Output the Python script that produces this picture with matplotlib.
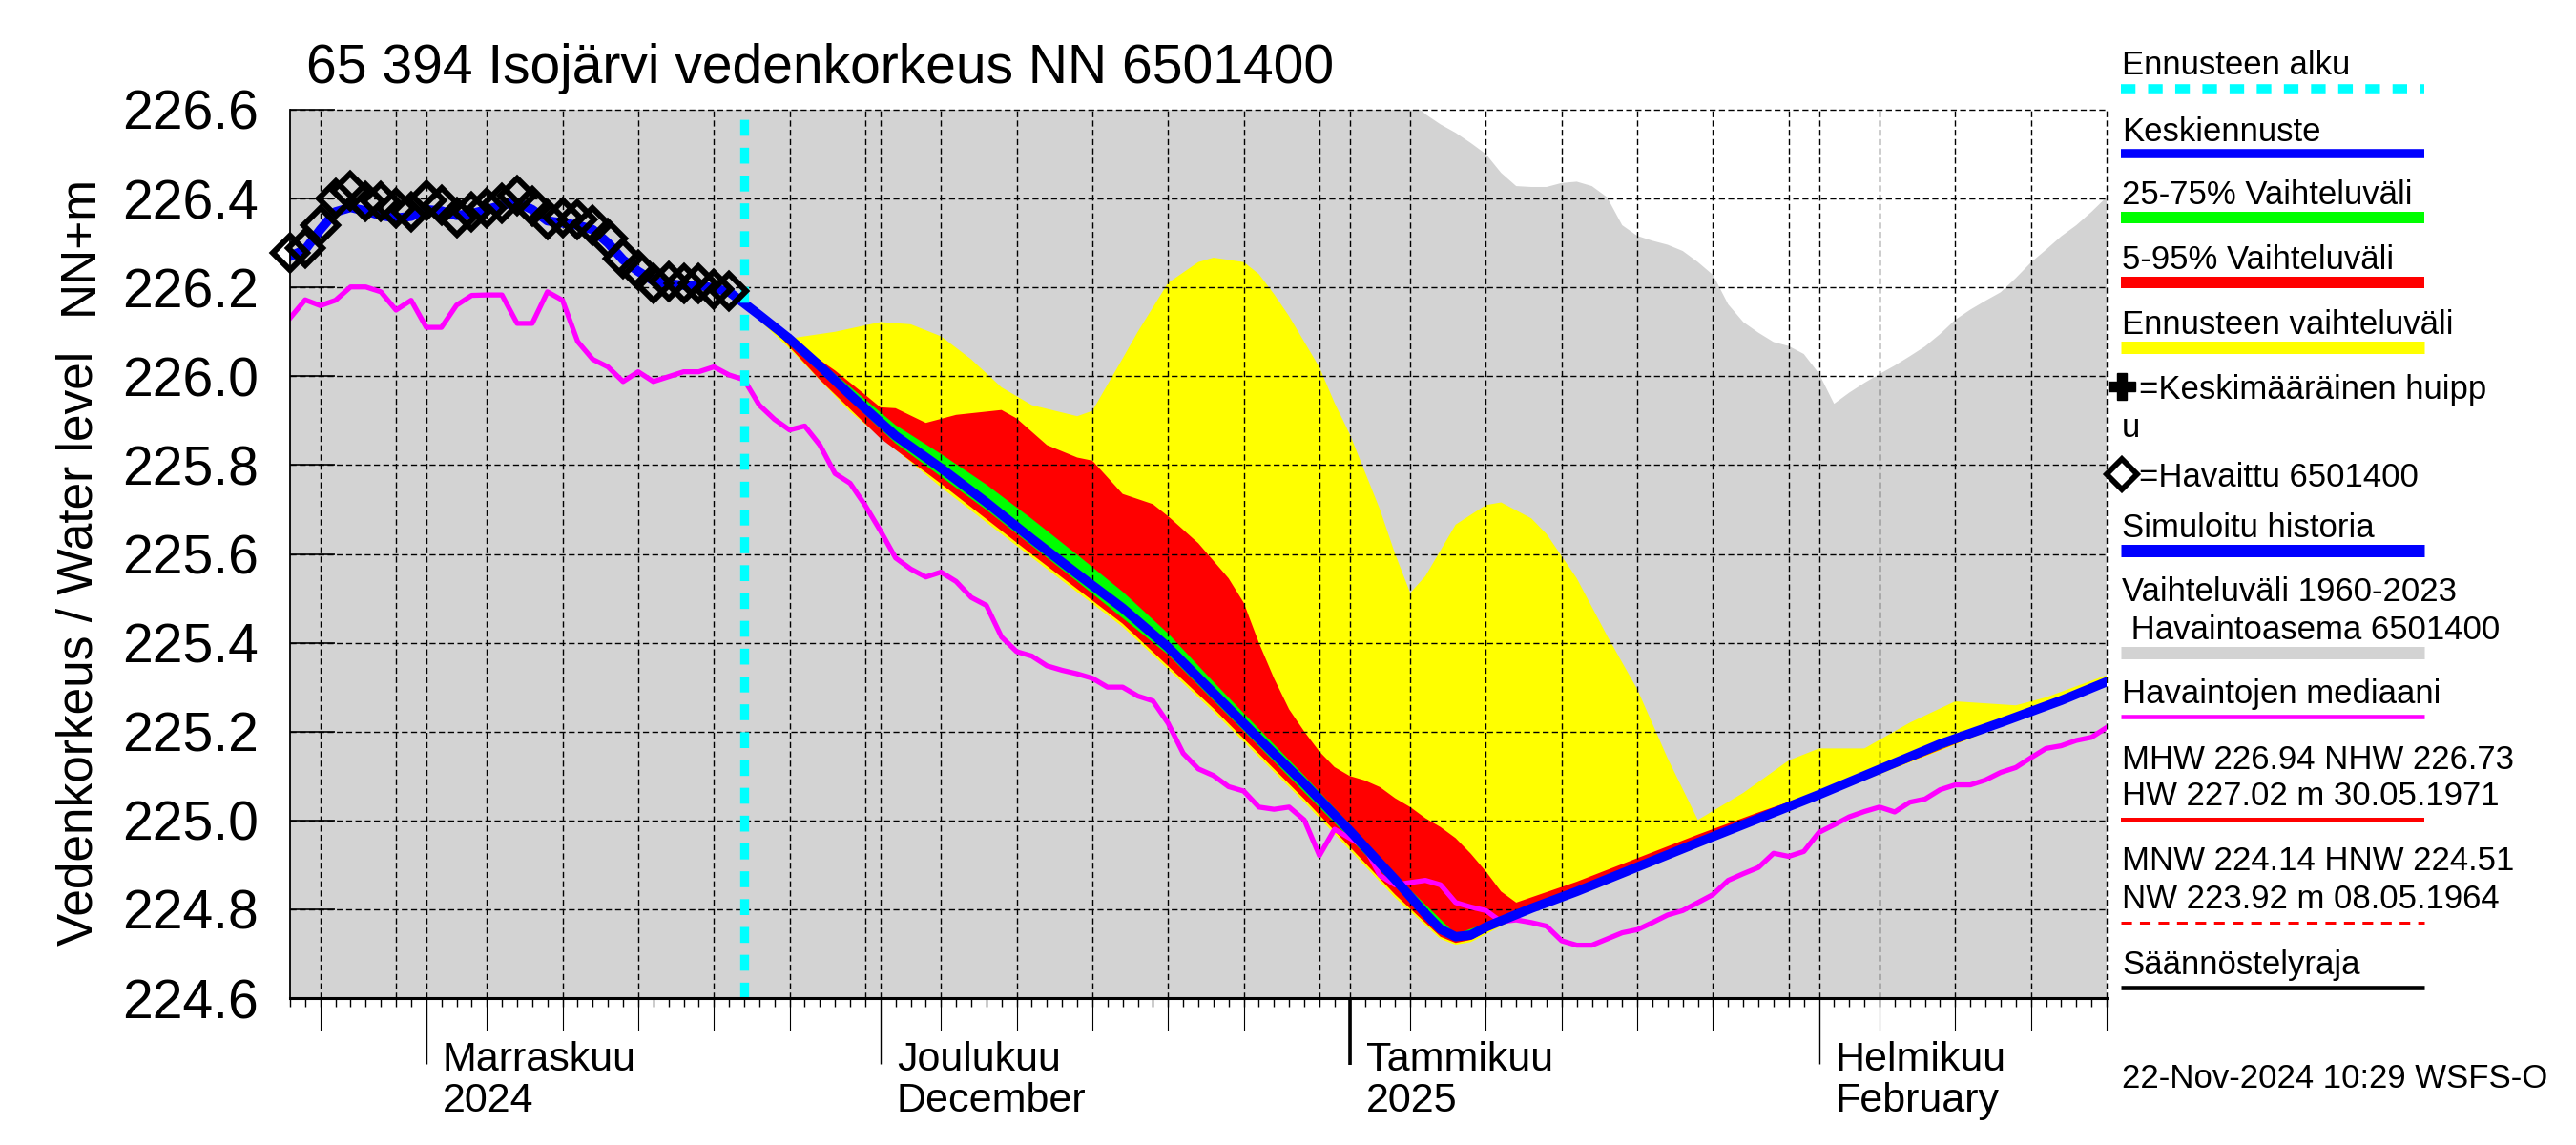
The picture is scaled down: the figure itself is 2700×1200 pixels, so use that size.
import matplotlib
matplotlib.use("Agg")
import matplotlib.pyplot as plt
import matplotlib.dates as mdates
import matplotlib.transforms as mtransforms
from matplotlib.lines import Line2D
import numpy as np
import pandas as pd

plt.rcParams['font.family'] = ['Liberation Sans', 'DejaVu Sans']
plt.rcParams['lines.scale_dashes'] = False

# ---------------- data ----------------
TITLE = "65 394 Isojärvi vedenkorkeus NN 6501400"
X_START, X_END = "2024-10-23", "2025-02-20"
FORECAST_START = "2024-11-22"

obs_start = "2024-10-23"
obs_values = [226.278, 226.289, 226.339, 226.400, 226.418, 226.393, 226.393, 226.378,
              226.371, 226.396, 226.385, 226.357, 226.371, 226.378, 226.389, 226.407,
              226.382, 226.353, 226.357, 226.353, 226.339, 226.310, 226.264, 226.239,
              226.210, 226.214, 226.210, 226.210, 226.196, 226.192]

sim_values = [226.270, 226.285, 226.330, 226.370, 226.380, 226.372, 226.362, 226.356,
              226.360, 226.375, 226.372, 226.362, 226.366, 226.375, 226.385, 226.392,
              226.375, 226.350, 226.345, 226.340, 226.330, 226.300, 226.262, 226.236,
              226.215, 226.208, 226.205, 226.205, 226.198, 226.190]

median_start = "2024-10-23"
median_values = [
    226.131, 226.172, 226.159, 226.171, 226.201, 226.201, 226.190, 226.149, 226.171,  # Oct 23-31
    226.110, 226.110, 226.160, 226.182, 226.183, 226.183, 226.119, 226.119, 226.190, 226.171,  # Nov 1-10
    226.078, 226.038, 226.021, 225.988, 226.010, 225.988, 225.999, 226.010, 226.010, 226.021,  # Nov 11-20
    226.003, 225.992, 225.935, 225.903, 225.879, 225.888, 225.845, 225.781, 225.759, 225.709,  # Nov 21-30
    225.652, 225.591, 225.566, 225.548, 225.559, 225.538, 225.502, 225.484, 225.413, 225.380,  # Dec 1-10
    225.370, 225.348, 225.338, 225.330, 225.320, 225.300, 225.300, 225.280, 225.269, 225.219,  # Dec 11-20
    225.151, 225.116, 225.101, 225.076, 225.066, 225.030, 225.025, 225.030, 225.001, 224.921,  # Dec 21-30
    224.980,                                                                                   # Dec 31
    224.960, 224.940, 224.876, 224.855, 224.860, 224.865, 224.855, 224.815, 224.805, 224.797,  # Jan 1-10
    224.772, 224.776, 224.770, 224.762, 224.729, 224.719, 224.719, 224.733, 224.747, 224.754,  # Jan 11-20
    224.770, 224.787, 224.797, 224.815, 224.833, 224.865, 224.880, 224.894, 224.926, 224.919,  # Jan 21-30
    224.930,                                                                                   # Jan 31
    224.973, 224.990, 225.008, 225.020, 225.030, 225.019, 225.041, 225.048, 225.069, 225.080,  # Feb 1-10
    225.080, 225.091, 225.108, 225.119, 225.141, 225.162, 225.168, 225.180, 225.187, 225.209,  # Feb 11-20
]

mean_dates = ["2024-11-21", "2024-11-23", "2024-11-25", "2024-11-27", "2024-11-29", "2024-12-02",
              "2024-12-05", "2024-12-08", "2024-12-11", "2024-12-14", "2024-12-17", "2024-12-20",
              "2024-12-23", "2024-12-26", "2024-12-29", "2025-01-01", "2025-01-04", "2025-01-06",
              "2025-01-07", "2025-01-08", "2025-01-09", "2025-01-10", "2025-01-13", "2025-01-16",
              "2025-01-20", "2025-01-24", "2025-01-28", "2025-02-01", "2025-02-05", "2025-02-09",
              "2025-02-13", "2025-02-17", "2025-02-20"]
mean_values = [226.190, 226.138, 226.084, 226.023, 225.958, 225.866,
               225.793, 225.716, 225.634, 225.555, 225.478, 225.390,
               225.287, 225.184, 225.083, 224.977, 224.867, 224.790,
               224.755, 224.738, 224.742, 224.760, 224.802, 224.840,
               224.895, 224.950, 225.004, 225.058, 225.115, 225.172,
               225.220, 225.270, 225.312]

yellow_up_dates = ["2024-11-21", "2024-11-25", "2024-11-28", "2024-12-01", "2024-12-03", "2024-12-05",
                   "2024-12-07", "2024-12-09", "2024-12-11", "2024-12-14", "2024-12-15", "2024-12-17",
                   "2024-12-18", "2024-12-20", "2024-12-22", "2024-12-23", "2024-12-25", "2024-12-26",
                   "2024-12-27", "2024-12-28", "2024-12-30", "2024-12-31", "2025-01-01", "2025-01-03",
                   "2025-01-04", "2025-01-05", "2025-01-06", "2025-01-08", "2025-01-10", "2025-01-11",
                   "2025-01-13", "2025-01-14", "2025-01-16", "2025-01-18", "2025-01-20", "2025-01-22",
                   "2025-01-24", "2025-01-27", "2025-01-30", "2025-02-01", "2025-02-04", "2025-02-07",
                   "2025-02-10", "2025-02-14", "2025-02-16", "2025-02-20"]
yellow_up_values = [226.190, 226.085, 226.100, 226.122, 226.117, 226.090,
                    226.038, 225.975, 225.935, 225.910, 225.922, 226.040,
                    226.100, 226.210, 226.257, 226.267, 226.257, 226.230,
                    226.185, 226.135, 226.020, 225.940, 225.870, 225.700,
                    225.600, 225.512, 225.550, 225.666, 225.710, 225.716,
                    225.680, 225.645, 225.545, 225.416, 225.295, 225.140,
                    225.001, 225.062, 225.135, 225.162, 225.162, 225.220,
                    225.268, 225.259, 225.277, 225.327]

yellow_lo_dates = ["2024-11-21", "2024-11-25", "2024-11-29", "2024-12-05", "2024-12-11", "2024-12-17",
                   "2024-12-23", "2024-12-29", "2025-01-04", "2025-01-07", "2025-01-08", "2025-01-09",
                   "2025-01-12", "2025-01-20", "2025-02-01", "2025-02-20"]
yellow_lo_values = [226.190, 226.062, 225.920, 225.750, 225.592, 225.436,
                    225.245, 225.041, 224.826, 224.733, 224.720, 224.726,
                    224.780, 224.885, 225.050, 225.305]

red_up_dates = ["2024-11-21", "2024-11-24", "2024-11-26", "2024-11-28", "2024-11-30", "2024-12-01",
                "2024-12-02", "2024-12-04", "2024-12-06", "2024-12-09", "2024-12-10", "2024-12-12",
                "2024-12-14", "2024-12-15", "2024-12-17", "2024-12-19", "2024-12-20", "2024-12-22",
                "2024-12-24", "2024-12-25", "2024-12-26", "2024-12-27", "2024-12-28", "2024-12-29",
                "2024-12-30", "2024-12-31", "2025-01-01", "2025-01-02", "2025-01-03", "2025-01-04",
                "2025-01-05", "2025-01-06", "2025-01-07", "2025-01-08", "2025-01-09", "2025-01-10",
                "2025-01-11", "2025-01-12", "2025-01-16", "2025-01-20", "2025-01-24", "2025-01-28",
                "2025-02-01", "2025-02-05", "2025-02-20"]
red_up_values = [226.190, 226.112, 226.060, 226.013, 225.958, 225.930,
                 225.928, 225.895, 225.913, 225.924, 225.905, 225.845,
                 225.817, 225.810, 225.735, 225.712, 225.685, 225.624,
                 225.545, 225.490, 225.400, 225.320, 225.250, 225.200,
                 225.155, 225.120, 225.100, 225.090, 225.075, 225.050,
                 225.030, 225.005, 224.985, 224.960, 224.925, 224.885,
                 224.840, 224.815, 224.862, 224.915, 224.968, 225.018,
                 225.065, 225.118, 225.312]

red_lo_dates = ["2024-11-21", "2024-11-24", "2024-11-27", "2024-12-01", "2024-12-05", "2024-12-11",
                "2024-12-17", "2024-12-23", "2024-12-29", "2025-01-04", "2025-01-07", "2025-01-08",
                "2025-01-09", "2025-01-12", "2025-01-20", "2025-02-01", "2025-02-20"]
red_lo_values = [226.190, 226.103, 225.992, 225.860, 225.758, 225.599,
                 225.443, 225.252, 225.048, 224.833, 224.738, 224.724,
                 224.731, 224.785, 224.888, 225.052, 225.306]

green_up_dates = ["2024-11-21", "2024-11-27", "2024-12-02", "2024-12-05", "2024-12-08", "2024-12-11",
                  "2024-12-14", "2024-12-17", "2024-12-20", "2024-12-23", "2024-12-26", "2024-12-29",
                  "2025-01-01", "2025-01-04", "2025-01-08", "2025-01-12", "2025-02-20"]
green_up_values = [226.190, 226.034, 225.890, 225.825, 225.756, 225.679,
                   225.598, 225.515, 225.421, 225.312, 225.206, 225.101,
                   224.991, 224.877, 224.744, 224.792, 225.315]

green_lo_dates = ["2024-11-21", "2024-11-27", "2024-12-02", "2024-12-08", "2024-12-14", "2024-12-20",
                  "2024-12-26", "2025-01-01", "2025-01-04", "2025-01-08", "2025-01-12", "2025-02-20"]
green_lo_values = [226.190, 226.010, 225.849, 225.699, 225.538, 225.373,
                   225.167, 224.960, 224.852, 224.728, 224.785, 225.308]

grey_dates = ["2024-10-23", "2024-12-31", "2025-01-04", "2025-01-05", "2025-01-06", "2025-01-07",
              "2025-01-08", "2025-01-09", "2025-01-10", "2025-01-11", "2025-01-12", "2025-01-13",
              "2025-01-14", "2025-01-15", "2025-01-16", "2025-01-17", "2025-01-18", "2025-01-19",
              "2025-01-20", "2025-01-21", "2025-01-22", "2025-01-23", "2025-01-24", "2025-01-25",
              "2025-01-26", "2025-01-27", "2025-01-28", "2025-01-29", "2025-01-30", "2025-01-31",
              "2025-02-01", "2025-02-02", "2025-02-03", "2025-02-04", "2025-02-05", "2025-02-06",
              "2025-02-07", "2025-02-08", "2025-02-09", "2025-02-10", "2025-02-11", "2025-02-12",
              "2025-02-13", "2025-02-14", "2025-02-15", "2025-02-16", "2025-02-17", "2025-02-18",
              "2025-02-19", "2025-02-20"]
grey_upper = [226.950, 226.800, 226.660, 226.620, 226.590, 226.567,
              226.548, 226.525, 226.500, 226.458, 226.428, 226.426,
              226.426, 226.435, 226.438, 226.428, 226.403, 226.340,
              226.316, 226.305, 226.296, 226.282, 226.257, 226.228,
              226.162, 226.122, 226.098, 226.077, 226.068, 226.050,
              226.006, 225.938, 225.963, 225.985, 226.005, 226.024,
              226.045, 226.067, 226.095, 226.127, 226.150, 226.170,
              226.189, 226.221, 226.256, 226.285, 226.315, 226.340,
              226.370, 226.403]
GREY_LOWER = 224.30

month_labels = [("2024-11-01", "Marraskuu", "2024"),
                ("2024-12-01", "Joulukuu", "December"),
                ("2025-01-01", "Tammikuu", "2025"),
                ("2025-02-01", "Helmikuu", "February")]

y_ticks = [224.6, 224.8, 225.0, 225.2, 225.4, 225.6, 225.8, 226.0, 226.2, 226.4, 226.6]

legend_items = [
    ("Ennusteen alku", "#00ffff", 9.6, "dash"),
    ("Keskiennuste", "#0000ff", 9.6, "solid"),
    ("25-75% Vaihteluväli", "#00ff00", 12, "solid"),
    ("5-95% Vaihteluväli", "#ff0000", 12, "solid"),
    ("Ennusteen vaihteluväli", "#ffff00", 13, "solid"),
]
STAMP = "22-Nov-2024 10:29 WSFS-O"

# ---------------- figure ----------------
W, H = 2700, 1200
fig = plt.figure(figsize=(W / 100, H / 100), dpi=100)
L, R, T, B = 304, 2208, 115, 1046
ax = fig.add_axes([L / W, 1 - B / H, (R - L) / W, (B - T) / H])

def D(lst):
    return mdates.date2num(pd.to_datetime(lst))

x0, x1 = pd.Timestamp(X_START), pd.Timestamp(X_END)
ax.set_xlim(x0, x1)
ax.set_ylim(224.6, 226.6)

# grey historical range
ax.fill_between(D(grey_dates), GREY_LOWER, grey_upper, color="#d3d3d3", lw=0, zorder=1)

def band(up_d, up_v, lo_d, lo_v, color, z):
    xs = np.concatenate([D(up_d), D(lo_d)[::-1]])
    ys = np.concatenate([np.array(up_v), np.array(lo_v)[::-1]])
    ax.fill(xs, ys, color=color, lw=0, zorder=z)

band(yellow_up_dates, yellow_up_values, yellow_lo_dates, yellow_lo_values, "#ffff00", 2)
band(red_up_dates, red_up_values, red_lo_dates, red_lo_values, "#ff0000", 3)
band(green_up_dates, green_up_values, green_lo_dates, green_lo_values, "#00ff00", 4)

# grid
grid_kw = dict(color="black", lw=1.0, linestyle=(0, (4.5, 2.5)), zorder=5)
for v in y_ticks:
    ax.axhline(v, clip_on=False, **grid_kw)
gdays = []
d = x0
while d <= x1:
    if d.day in (1, 5, 10, 15, 20, 25, 30):
        gdays.append(d)
    d += pd.Timedelta(days=1)
for g in gdays:
    ax.axvline(g, clip_on=False, **grid_kw)

# lines
med_dates = pd.date_range(median_start, periods=len(median_values), freq="D")
ax.plot(med_dates, median_values, color="#ff00ff", lw=3.8, zorder=6)
obs_dates = pd.date_range(obs_start, periods=len(obs_values), freq="D")
ax.plot(obs_dates, sim_values, color="#0000ff", lw=7.0, zorder=7)
ax.plot(pd.to_datetime(mean_dates), mean_values, color="#0000ff", lw=7.0, zorder=7)
ax.axvline(pd.Timestamp(FORECAST_START), color="#00ffff", lw=6.7,
           linestyle=(0, (12, 9)), zorder=8)
ax.plot(obs_dates, obs_values, linestyle="none", marker="D", ms=18, mfc="none",
        mec="black", mew=4.4, zorder=9, clip_on=False)

# spines / ticks
for s in ("top", "right"):
    ax.spines[s].set_visible(False)
ax.spines["left"].set_linewidth(1.3)
ax.spines["bottom"].set_linewidth(2.2)
ax.spines["left"].set_zorder(10)
ax.spines["bottom"].set_zorder(10)

ax.set_yticks(y_ticks)
ax.set_yticklabels([f"{v:.1f}" for v in y_ticks])
ax.tick_params(axis="y", direction="in", length=34, width=1.2, labelsize=41, pad=24)

ax.xaxis.set_major_locator(mdates.MonthLocator())
ax.xaxis.set_minor_locator(mdates.DayLocator())
ax.tick_params(axis="x", which="major", direction="out", length=50, width=1.0,
               labelbottom=False)
ax.tick_params(axis="x", which="minor", direction="out", length=6.5, width=1.0)
xt = ax.get_xaxis_transform()
mid = [g for g in gdays if g.day in (5, 10, 15, 20, 25)]
ax.vlines(mid, 0, -34 / (B - T), transform=xt, colors="black", lw=0.8, clip_on=False)
ax.vlines([pd.Timestamp("2025-01-01")], 0, -70 / (B - T), transform=xt, colors="black",
          lw=2.6, clip_on=False)

# month labels
mtr = mtransforms.blended_transform_factory(ax.transData, fig.transFigure) + \
    mtransforms.ScaledTranslation(17 / 100, 0, fig.dpi_scale_trans)
for dt, l1, l2 in month_labels:
    ax.text(pd.Timestamp(dt), 1 - 1121.7 / H, l1, transform=mtr, fontsize=31,
            ha="left", va="baseline")
    ax.text(pd.Timestamp(dt), 1 - 1165 / H, l2, transform=mtr, fontsize=31,
            ha="left", va="baseline")

# title and axis labels
fig.text(321 / W, 1 - 87 / H, TITLE, fontsize=41, ha="left", va="baseline")
fig.text(83 / W, 1 - 679 / H, "Vedenkorkeus / Water level", rotation=90,
         fontsize=37, ha="center", va="center")
fig.text(83 / W, 1 - 256 / H, "NN+m", rotation=90, fontsize=37, ha="center", va="center")

# legend
LX0, LX1, TX = 2223, 2541, 2224
FS = 25

def ftxt(x, yb, s):
    fig.text(x / W, 1 - yb / H, s, fontsize=FS, ha="left", va="baseline")

def fline(y, color, px, style="solid"):
    ls = "-"
    if style == "dash":
        ls = (0, (11, 9.5))
    elif style == "dashed":
        ls = (0, (8, 6))
    fig.add_artist(Line2D([LX0 / W, LX1 / W], [1 - y / H, 1 - y / H], transform=fig.transFigure,
                          color=color, lw=px * 0.72, linestyle=ls, solid_capstyle="butt",
                          dash_capstyle="butt"))

text_base = [78.5, 147.5, 214.5, 282, 350.5]
line_y = [93, 161, 228, 296, 364]
for (lab, col, px, st), tb, ly in zip(legend_items, text_base, line_y):
    ftxt(TX, tb, lab)
    fline(ly, col, px, st)

fig.add_artist(Line2D([2223.5 / W], [1 - 405 / H], transform=fig.transFigure, marker="P",
                      ms=20, color="black", linestyle="none"))
ftxt(2242, 417.6, "=Keskimääräinen huipp")
ftxt(TX, 458, "u")
fig.add_artist(Line2D([2223.5 / W], [1 - 497 / H], transform=fig.transFigure, marker="D",
                      ms=16, mfc="none", mec="black", mew=4.2, linestyle="none"))
ftxt(2242, 509.6, "=Havaittu 6501400")
ftxt(TX, 563, "Simuloitu historia")
fline(577, "#0000ff", 13)
ftxt(TX, 630, "Vaihteluväli 1960-2023")
ftxt(TX, 670, " Havaintoasema 6501400")
fline(683.5, "#d3d3d3", 13)
ftxt(TX, 737, "Havaintojen mediaani")
fline(751, "#ff00ff", 4.6)
ftxt(TX, 806, "MHW 226.94 NHW 226.73")
ftxt(TX, 844, "HW 227.02 m 30.05.1971")
fline(859, "#ff0000", 4)
ftxt(TX, 912, "MNW 224.14 HNW 224.51")
ftxt(TX, 952.5, "NW 223.92 m 08.05.1964")
fline(967, "#ff0000", 3, "dashed")
ftxt(TX, 1021.5, "Säännöstelyraja")
fline(1034.6, "black", 4.6)
ftxt(TX, 1140, STAMP)

fig.savefig("out.png", dpi=100)
